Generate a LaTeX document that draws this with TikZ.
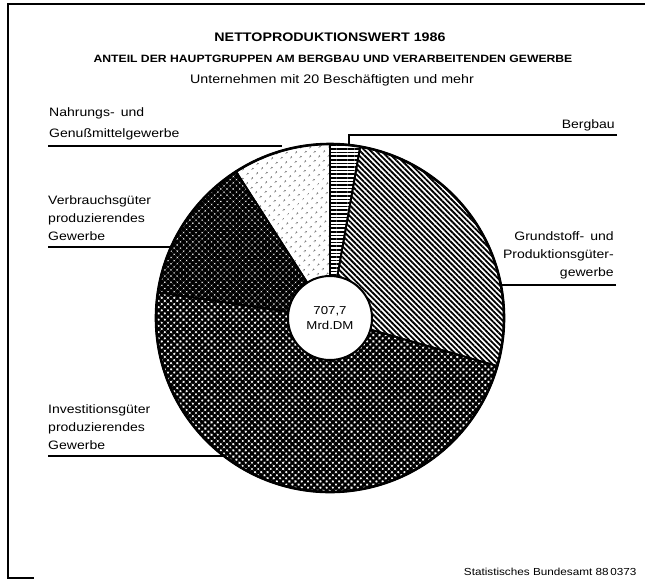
\documentclass[tikz,border=0pt]{standalone}
\usepackage{fontspec}
\setmainfont[FakeStretch=1.15]{Liberation Sans}
\usetikzlibrary{patterns.meta}
\tikzset{every picture/.style={x=1pt,y=-1pt,line cap=butt}}
\tikzset{sector/.style={draw,line width=1.8pt,line join=round}}
\tikzset{leader/.style={line width=1.1pt}}
\tikzset{lbl/.style={inner sep=0pt,font=\fontsize{12.2}{18}\selectfont}}
\tikzset{berg/.style={pattern={Lines[angle=0,distance=3.6pt,line width=1.6pt]}}}
\tikzset{grund/.style={pattern={Lines[angle=-45,distance=3.8pt,line width=1.9pt]}}}
\tikzset{invest/.style={pattern={Hatch[angle=45,distance=4.4pt,line width=2.4pt]}}}
\tikzset{verbr/.style={pattern={Hatch[angle=45,distance=4.4pt,line width=3.0pt]}}}
\tikzset{nahr/.style={pattern={Dots[angle=45,distance=6.5pt,radius=0.9pt]}}}

\begin{document}
\begin{tikzpicture}
\useasboundingbox (0,0) rectangle (645,581);

\coordinate (f1) at (8,4);
\coordinate (f2) at (645,4);
\coordinate (f3) at (8,578);
\coordinate (f4) at (34,578);
\draw [line width=1.2pt] (f2) -- (f1) -- (f3) -- (f4);

\node [font=\bfseries\fontsize{12.4}{14}\selectfont] (t1) at (330,37) {NETTOPRODUKTIONSWERT 1986};
\node [font=\bfseries\fontsize{10.6}{12}\selectfont] (t2) at (333,59) {ANTEIL DER HAUPTGRUPPEN AM BERGBAU UND VERARBEITENDEN GEWERBE};
\node [font=\fontsize{12.4}{14}\selectfont] (t3) at (332,80) {Unternehmen mit 20 Beschäftigten und mehr};

\coordinate (c) at (330,318);
\begin{scope}[shift={(c)}]
\path [sector,nahr] (0,0) -- (-90:174) arc[start angle=-90,end angle=-122.7,radius=174] -- cycle;
\path [sector,berg] (0,0) -- (-80:174) arc[start angle=-80,end angle=-90,radius=174] -- cycle;
\path [sector,grund] (0,0) -- (16:174) arc[start angle=16,end angle=-80,radius=174] -- cycle;
\path [sector,invest] (0,0) -- (-171.5:174) arc[start angle=-171.5,end angle=-344,radius=174] -- cycle;
\path [sector,verbr] (0,0) -- (-122.7:174) arc[start angle=-122.7,end angle=-171.5,radius=174] -- cycle;
\draw [line width=2.6pt] (0,0) circle[radius=174];
\end{scope}

\node [circle,draw,fill=white,line width=2pt,minimum size=84pt,inner sep=0pt,align=center,font=\fontsize{11.5}{15}\selectfont] (mid) at (c) {707,7\\Mrd.DM};

\coordinate (l1) at (48,146);
\coordinate (e1) at (282,146);
\node [lbl,align=left,anchor=south west] (nahr) at (49,140) {Nahrungs-\enspace und\\[3pt]Genußmittelgewerbe};
\draw [leader] (l1) -- (e1);

\coordinate (l2) at (617,135);
\coordinate (k2) at (349,135);
\coordinate (e2) at (349,146);
\node [lbl,align=right,anchor=south east] (berg) at (615,131) {Bergbau};
\draw [leader] (l2) -- (k2) -- (e2);

\coordinate (l3) at (616,285);
\coordinate (e3) at (501,285);
\node [lbl,align=right,anchor=south east] (grund) at (614,279) {Grundstoff-\enspace und\\Produktionsgüter-\\gewerbe};
\draw [leader] (l3) -- (e3);

\coordinate (l4) at (48,247);
\coordinate (e4) at (171,247);
\node [lbl,align=left,anchor=south west] (verbr) at (48,241) {Verbrauchsgüter\\produzierendes\\Gewerbe};
\draw [leader] (l4) -- (e4);

\coordinate (l5) at (48,456);
\coordinate (e5) at (224,456);
\node [lbl,align=left,anchor=south west] (invest) at (48,450) {Investitionsgüter\\produzierendes\\Gewerbe};
\draw [leader] (l5) -- (e5);

\node [font=\fontsize{10.2}{12}\selectfont,anchor=east] (quelle) at (640,572) {Statistisches Bundesamt 88\,0373};
\end{tikzpicture}
\end{document}
